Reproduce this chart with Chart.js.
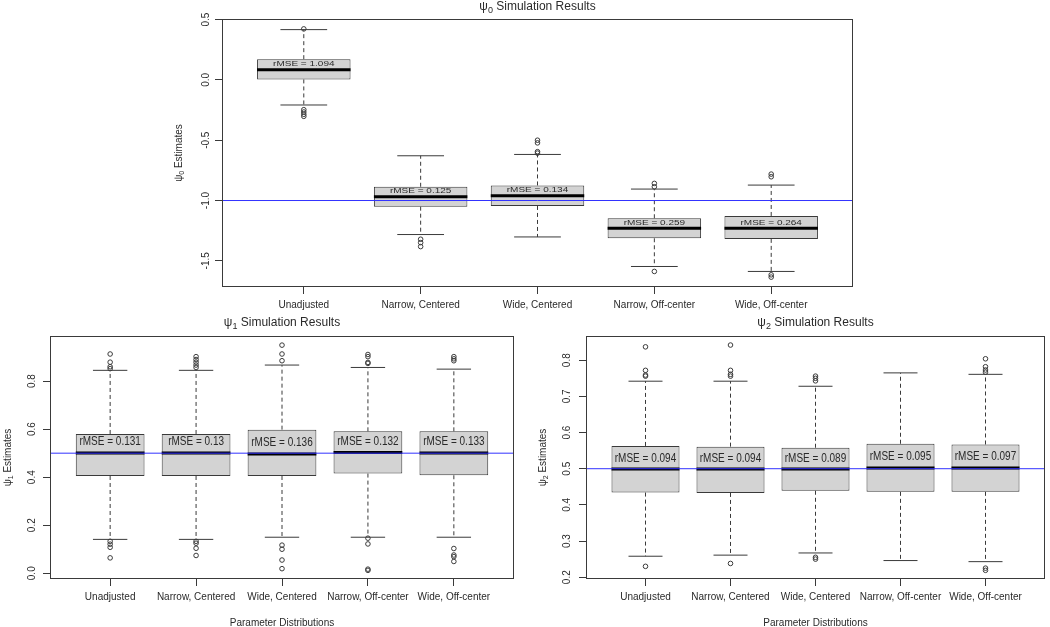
<!DOCTYPE html>
<html><head><meta charset="utf-8">
<script src="https://cdn.jsdelivr.net/npm/chart.js@4"></script>
<style>
html,body{margin:0;padding:0;background:#fff;width:1050px;height:627px;overflow:hidden;}
.p{position:absolute;}
</style></head><body>
<div class="p" style="left:160px;top:0px;"><canvas id="c0" width="710" height="318"></canvas></div>
<div class="p" style="left:0px;top:313px;"><canvas id="c1" width="525" height="314"></canvas></div>
<div class="p" style="left:525px;top:313px;"><canvas id="c2" width="525" height="314"></canvas></div>
<script>
// ---------- data ----------
const categories = ['Unadjusted', 'Narrow, Centered', 'Wide, Centered', 'Narrow, Off-center', 'Wide, Off-center'];

// psi0
const psi0Q1    = [0.004, -1.051, -1.045, -1.313, -1.318];
const psi0Med   = [0.084, -0.968, -0.960, -1.230, -1.230];
const psi0Q3    = [0.172, -0.886, -0.875, -1.147, -1.128];
const psi0Lo    = [-0.208, -1.282, -1.302, -1.547, -1.588];
const psi0Hi    = [0.417, -0.629, -0.618, -0.905, -0.872];
const psi0Out   = [[0.423, -0.247, -0.266, -0.285, -0.302], [-1.321, -1.349, -1.382], [-0.500, -0.522, -0.595, -0.607], [-0.858, -0.886, -1.588], [-0.781, -0.803, -1.616, -1.635]];
const psi0Rmse  = ['1.094', '0.125', '0.134', '0.259', '0.264'];
const psi0Ticks = [-1.5, -1.0, -0.5, 0.0, 0.5];
const psi0True  = -1;

// psi1
const psi1Q1    = [0.405, 0.405, 0.405, 0.415, 0.408];
const psi1Med   = [0.501, 0.501, 0.497, 0.503, 0.501];
const psi1Q3    = [0.580, 0.580, 0.598, 0.591, 0.591];
const psi1Lo    = [0.141, 0.141, 0.150, 0.150, 0.150];
const psi1Hi    = [0.845, 0.845, 0.867, 0.857, 0.850];
const psi1Out   = [[0.913, 0.879, 0.860, 0.852, 0.133, 0.121, 0.108, 0.064], [0.902, 0.890, 0.879, 0.867, 0.857, 0.133, 0.125, 0.104, 0.074], [0.950, 0.913, 0.885, 0.117, 0.100, 0.055, 0.019], [0.911, 0.902, 0.878, 0.874, 0.146, 0.122, 0.017, 0.012], [0.902, 0.893, 0.885, 0.103, 0.076, 0.069, 0.049]];
const psi1Rmse  = ['0.131', '0.13', '0.136', '0.132', '0.133'];
const psi1Ticks = [0.0, 0.2, 0.4, 0.6, 0.8];
const psi1True  = 0.5;

// psi2
const psi2Q1    = [0.434, 0.433, 0.439, 0.436, 0.436];
const psi2Med   = [0.499, 0.499, 0.499, 0.502, 0.502];
const psi2Q3    = [0.563, 0.561, 0.558, 0.569, 0.567];
const psi2Lo    = [0.258, 0.261, 0.267, 0.246, 0.243];
const psi2Hi    = [0.742, 0.742, 0.728, 0.765, 0.761];
const psi2Out   = [[0.837, 0.772, 0.759, 0.756, 0.230], [0.842, 0.772, 0.761, 0.756, 0.238], [0.756, 0.750, 0.743, 0.255, 0.250], [], [0.804, 0.782, 0.773, 0.767, 0.225, 0.219]];
const psi2Rmse  = ['0.094', '0.094', '0.089', '0.095', '0.097'];
const psi2Ticks = [0.2, 0.3, 0.4, 0.5, 0.6, 0.7, 0.8];
const psi2True  = 0.5;

// ---------- geometry / style ----------
const BOX_HALF = 0.4, CAP_HALF = 0.2, X_MIN = 0.3, X_MAX = 5.7;
const FAM = '"Liberation Sans", Arial, sans-serif';
const INK = '#2a2a2a';
const LINE = '#3a3a3a';

function font(sz) { return sz + 'px ' + FAM; }

function drawParts(ctx, parts, x, y, size) {
  const subSize = Math.round(size * 0.72);
  let total = 0;
  parts.forEach(p => { ctx.font = font(p[1] ? subSize : size); total += ctx.measureText(p[0]).width; });
  let cx = x - total / 2;
  ctx.textAlign = 'left';
  ctx.textBaseline = 'middle';
  parts.forEach(p => {
    ctx.font = font(p[1] ? subSize : size);
    ctx.fillText(p[0], cx, y + (p[1] ? size * 0.32 : 0));
    cx += ctx.measureText(p[0]).width;
  });
}

function makePanel(cfg) {
  const idx = categories.map((c, i) => i + 1);
  const boxes = idx.map((x, i) => ({ x: x, y: [cfg.q1[i], cfg.q3[i]] }));
  const medians = idx.flatMap((x, i) => [{ x: x - BOX_HALF, y: cfg.med[i] }, { x: x + BOX_HALF, y: cfg.med[i] }, { x: x, y: null }]);
  const whiskers = idx.flatMap((x, i) => [{ x: x, y: cfg.q3[i] }, { x: x, y: cfg.hi[i] }, { x: x, y: null }, { x: x, y: cfg.q1[i] }, { x: x, y: cfg.lo[i] }, { x: x, y: null }]);
  const caps = idx.flatMap((x, i) => [{ x: x - CAP_HALF, y: cfg.hi[i] }, { x: x + CAP_HALF, y: cfg.hi[i] }, { x: x, y: null }, { x: x - CAP_HALF, y: cfg.lo[i] }, { x: x + CAP_HALF, y: cfg.lo[i] }, { x: x, y: null }]);
  const outliers = idx.flatMap((x, i) => cfg.out[i].map(v => ({ x: x, y: v })));
  const refLine = [{ x: X_MIN, y: cfg.ref }, { x: X_MAX, y: cfg.ref }];

  const deco = {
    id: 'deco',
    afterDraw(chart) {
      const ctx = chart.ctx, a = chart.chartArea;
      const xs = chart.scales.x, ys = chart.scales.y;
      ctx.save();
      ctx.strokeStyle = LINE; ctx.lineWidth = 1;
      ctx.strokeRect(Math.round(a.left) + 0.5, Math.round(a.top) + 0.5, Math.round(a.right - a.left) - 1, Math.round(a.bottom - a.top) - 1);
      ctx.fillStyle = INK;
      drawParts(ctx, [['\u03c8', false], [cfg.sub, true], [' Simulation Results', false]], (a.left + a.right) / 2, cfg.titleY, 12);
      ctx.font = font(10);
      cfg.ticks.forEach(v => {
        const py = ys.getPixelForValue(v);
        ctx.save();
        ctx.translate(a.left - cfg.yTickOff, py);
        ctx.rotate(-Math.PI / 2);
        ctx.textAlign = 'center'; ctx.textBaseline = 'middle';
        ctx.fillText(v.toFixed(1), 0, 0);
        ctx.restore();
      });
      ctx.save();
      ctx.translate(cfg.yTitleX, (a.top + a.bottom) / 2);
      ctx.rotate(-Math.PI / 2);
      drawParts(ctx, [['\u03c8', false], [cfg.sub, true], [' Estimates', false]], 0, 0, 10);
      ctx.restore();
      if (cfg.xTitle) {
        ctx.font = font(10); ctx.textAlign = 'center'; ctx.textBaseline = 'middle';
        ctx.fillText('Parameter Distributions', (a.left + a.right) / 2, cfg.xTitleY);
      }
      ctx.font = font(10); ctx.textAlign = 'center'; ctx.textBaseline = 'alphabetic';
      cfg.rmse.forEach((r, i) => {
        const px = xs.getPixelForValue(i + 1);
        const py = ys.getPixelForValue(cfg.med[i]) - cfg.rmseGap;
        ctx.save();
        ctx.translate(px, py);
        ctx.scale(1, cfg.rmseScale);
        ctx.fillText('rMSE = ' + r, 0, 0);
        ctx.restore();
      });
      ctx.restore();
    }
  };

  return new Chart(document.getElementById(cfg.id), {
    type: 'bar',
    data: {
      datasets: [
        { type: 'line', data: refLine, borderColor: 'rgb(50,50,255)', borderWidth: 1, pointRadius: 0, order: 0 },
        { type: 'line', data: medians, borderColor: '#000', borderWidth: 3, pointRadius: 0, spanGaps: false, borderCapStyle: 'butt', order: 1 },
        { type: 'scatter', data: outliers, pointRadius: 2.3, pointBorderWidth: 1, pointBorderColor: LINE, pointBackgroundColor: 'rgba(0,0,0,0)', showLine: false, order: 2 },
        { type: 'line', data: caps, borderColor: LINE, borderWidth: 1, pointRadius: 0, spanGaps: false, order: 3 },
        { type: 'line', data: whiskers, borderColor: LINE, borderWidth: 1, borderDash: [4, 3], pointRadius: 0, spanGaps: false, order: 4 },
        { type: 'bar', data: boxes, backgroundColor: '#d3d3d3', borderColor: LINE, borderWidth: 1, borderSkipped: false, barPercentage: 0.8, categoryPercentage: 1.0, order: 5 }
      ]
    },
    options: {
      responsive: false,
      devicePixelRatio: 1,
      animation: false,
      events: [],
      layout: { padding: cfg.pad },
      plugins: { legend: { display: false }, tooltip: { enabled: false }, title: { display: false } },
      scales: {
        x: {
          type: 'linear', min: X_MIN, max: X_MAX, offset: false,
          afterBuildTicks: s => { s.ticks = idx.map(v => ({ value: v })); },
          afterFit: s => { s.height = cfg.xHeight; },
          ticks: { autoSkip: false, maxRotation: 0, minRotation: 0, padding: 5, color: INK, font: { family: FAM, size: 10 },
                   callback: v => categories[Math.round(v) - 1] || '' },
          grid: { display: true, offset: false, drawOnChartArea: false, drawTicks: true, tickLength: 7, color: LINE, lineWidth: 1 },
          border: { display: false }
        },
        y: {
          type: 'linear', min: cfg.yMin, max: cfg.yMax,
          afterBuildTicks: s => { s.ticks = cfg.ticks.map(v => ({ value: v })); },
          afterFit: s => { s.width = cfg.yWidth; },
          ticks: { display: false },
          grid: { display: true, drawOnChartArea: false, drawTicks: true, tickLength: 7, color: LINE, lineWidth: 1 },
          border: { display: false }
        }
      }
    },
    plugins: [deco]
  });
}

makePanel({ id: 'c0', sub: '0', q1: psi0Q1, med: psi0Med, q3: psi0Q3, lo: psi0Lo, hi: psi0Hi, out: psi0Out, rmse: psi0Rmse,
  ticks: psi0Ticks, ref: psi0True, yMin: -1.717, yMax: 0.505,
  pad: { left: 0, top: 19, right: 17, bottom: 0 }, yWidth: 62, xHeight: 31, xTitle: false,
  titleY: 7, yTickOff: 16, yTitleX: 19, rmseGap: 3.5, rmseScale: 0.75 });

makePanel({ id: 'c1', sub: '1', q1: psi1Q1, med: psi1Med, q3: psi1Q3, lo: psi1Lo, hi: psi1Hi, out: psi1Out, rmse: psi1Rmse,
  ticks: psi1Ticks, ref: psi1True, yMin: -0.024, yMax: 0.988,
  pad: { left: 0, top: 23, right: 11, bottom: 0 }, yWidth: 50, xHeight: 48, xTitle: true, xTitleY: 310,
  titleY: 10, yTickOff: 18, yTitleX: 8, rmseGap: 7.5, rmseScale: 1.3 });

makePanel({ id: 'c2', sub: '2', q1: psi2Q1, med: psi2Med, q3: psi2Q3, lo: psi2Lo, hi: psi2Hi, out: psi2Out, rmse: psi2Rmse,
  ticks: psi2Ticks, ref: psi2True, yMin: 0.195, yMax: 0.867,
  pad: { left: 0, top: 23, right: 1, bottom: 0 }, yWidth: 61, xHeight: 48, xTitle: true, xTitleY: 310,
  titleY: 10, yTickOff: 19, yTitleX: 18, rmseGap: 7.5, rmseScale: 1.3 });
</script>
</body></html>
